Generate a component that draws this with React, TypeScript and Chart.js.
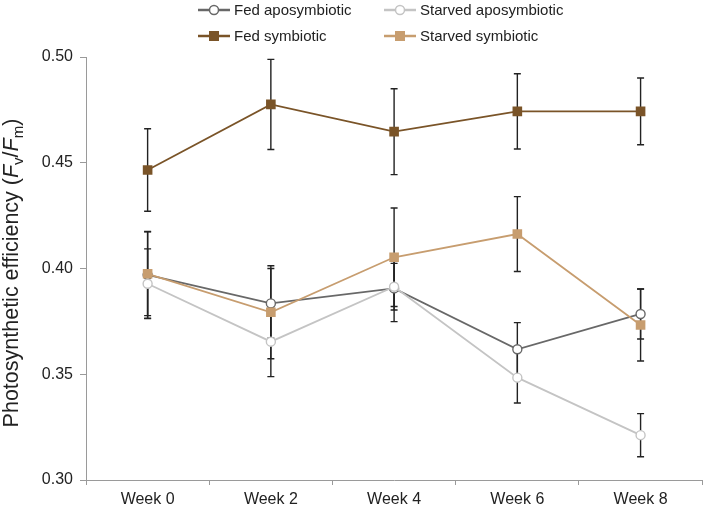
import React, { useEffect, useRef } from 'react';
import { Chart, registerables } from 'chart.js';

Chart.register(...registerables);

const weeks = ['Week 0', 'Week 2', 'Week 4', 'Week 6', 'Week 8'];

const fedApo = [0.397, 0.3835, 0.3906, 0.3618, 0.3785];
const fedApoErr = [0.0205, 0.0165, 0.0157, 0.0126, 0.0118];

const starvedApo = [0.3928, 0.3654, 0.3914, 0.3484, 0.3212];
const starvedApoErr = [0.0165, 0.0165, 0.011, 0.012, 0.0102];

const fedSym = [0.4466, 0.4776, 0.4647, 0.4743, 0.4743];
const fedSymErr = [0.0195, 0.0213, 0.0203, 0.0178, 0.0158];

const starvedSym = [0.3975, 0.3793, 0.4053, 0.4163, 0.3733];
const starvedSymErr = [0.0198, 0.022, 0.0233, 0.0177, 0.017];

const yMin = 0.3;
const yMax = 0.5;
const yStep = 0.05;

const FONT = '"Liberation Sans", Arial, Helvetica, sans-serif';

type Series = {
  label: string;
  data: number[];
  err: number[];
  color: string;
  fill: string;
  style: 'circle' | 'rect';
  order: number;
};

export default function App() {
  const ref = useRef<HTMLCanvasElement>(null);

  useEffect(() => {
    if (!ref.current) return;
    const series: Series[] = [
      { label: 'Fed aposymbiotic', data: fedApo, err: fedApoErr, color: '#686868', fill: '#ffffff', style: 'circle', order: 3 },
      { label: 'Starved aposymbiotic', data: starvedApo, err: starvedApoErr, color: '#c4c4c4', fill: '#ffffff', style: 'circle', order: 2 },
      { label: 'Fed symbiotic', data: fedSym, err: fedSymErr, color: '#7a5428', fill: '#7a5428', style: 'rect', order: 1 },
      { label: 'Starved symbiotic', data: starvedSym, err: starvedSymErr, color: '#c79d6f', fill: '#c79d6f', style: 'rect', order: 0 },
    ];

    const errorBars = {
      id: 'errorBars',
      beforeDatasetsDraw(chart: any) {
        const ctx = chart.ctx;
        const y = chart.scales.y;
        ctx.save();
        ctx.strokeStyle = '#222222';
        ctx.lineWidth = 1.4;
        series.forEach((s, di) => {
          const meta = chart.getDatasetMeta(di);
          s.err.forEach((e, i) => {
            const pt = meta.data[i];
            if (!pt) return;
            const x = pt.x;
            const v = s.data[i];
            const yt = y.getPixelForValue(v + e);
            const yb = y.getPixelForValue(v - e);
            ctx.beginPath();
            ctx.moveTo(x, yt);
            ctx.lineTo(x, yb);
            ctx.moveTo(x - 3.5, yt);
            ctx.lineTo(x + 3.5, yt);
            ctx.moveTo(x - 3.5, yb);
            ctx.lineTo(x + 3.5, yb);
            ctx.stroke();
          });
        });
        ctx.restore();
      },
    };

    const legendPos = [
      { x: 234, y: 10 },
      { x: 420, y: 10 },
      { x: 234, y: 36 },
      { x: 420, y: 36 },
    ];

    const customLegend = {
      id: 'customLegend',
      afterDraw(chart: any) {
        const ctx = chart.ctx;
        ctx.save();
        series.forEach((s, i) => {
          const p = legendPos[i];
          const cx = p.x - 20;
          ctx.strokeStyle = s.color;
          ctx.lineWidth = 2.5;
          ctx.beginPath();
          ctx.moveTo(cx - 16, p.y);
          ctx.lineTo(cx + 16, p.y);
          ctx.stroke();
          ctx.lineWidth = 1.5;
          ctx.fillStyle = s.fill;
          if (s.style === 'circle') {
            ctx.beginPath();
            ctx.arc(cx, p.y, 4.5, 0, Math.PI * 2);
            ctx.fill();
            ctx.stroke();
          } else {
            ctx.fillRect(cx - 5, p.y - 5, 10, 10);
          }
          ctx.fillStyle = '#222222';
          ctx.font = '15px ' + FONT;
          ctx.textBaseline = 'middle';
          ctx.textAlign = 'left';
          ctx.fillText(s.label, p.x, p.y + 1);
        });
        ctx.restore();
      },
    };

    const yTitle = {
      id: 'yTitle',
      afterDraw(chart: any) {
        const ctx = chart.ctx;
        const parts: { t: string; f: string; dy: number }[] = [
          { t: 'Photosynthetic efficiency (', f: '21.5px ' + FONT, dy: 0 },
          { t: 'F', f: 'italic 21.5px ' + FONT, dy: 0 },
          { t: 'v', f: '15px ' + FONT, dy: 5 },
          { t: '/', f: '21.5px ' + FONT, dy: 0 },
          { t: 'F', f: 'italic 21.5px ' + FONT, dy: 0 },
          { t: 'm', f: '15px ' + FONT, dy: 5 },
          { t: ')', f: '21.5px ' + FONT, dy: 0 },
        ];
        ctx.save();
        let total = 0;
        const widths = parts.map((p) => {
          ctx.font = p.f;
          const w = ctx.measureText(p.t).width;
          total += w;
          return w;
        });
        ctx.translate(18, 273);
        ctx.rotate(-Math.PI / 2);
        ctx.fillStyle = '#222222';
        ctx.textBaseline = 'alphabetic';
        ctx.textAlign = 'left';
        let x = -total / 2;
        parts.forEach((p, i) => {
          ctx.font = p.f;
          ctx.fillText(p.t, x, p.dy);
          x += widths[i];
        });
        ctx.restore();
      },
    };

    const chart = new Chart(ref.current, {
      type: 'line',
      data: {
        labels: weeks,
        datasets: series.map((s) => ({
          label: s.label,
          data: s.data,
          borderColor: s.color,
          backgroundColor: s.fill,
          borderWidth: 1.8,
          pointStyle: s.style,
          pointRadius: s.style === 'circle' ? 4.5 : 6.8,
          pointBorderWidth: s.style === 'circle' ? 1.4 : 0,
          pointBackgroundColor: s.fill,
          pointBorderColor: s.color,
          tension: 0,
          order: s.order,
        })),
      },
      options: {
        animation: false,
        responsive: true,
        maintainAspectRatio: false,
        layout: { padding: { left: 0, right: 3, top: 57, bottom: 0 } },
        plugins: {
          legend: { display: false },
          tooltip: { enabled: false },
        },
        scales: {
          x: {
            offset: true,
            grid: {
              offset: true,
              drawOnChartArea: false,
              drawTicks: true,
              tickLength: 5,
              color: '#9a9a9a',
            },
            border: { display: true, color: '#9a9a9a', width: 1 },
            ticks: {
              color: '#222222',
              font: { family: FONT, size: 16 },
              padding: 5,
              maxRotation: 0,
            },
            afterFit(scale: any) {
              scale.height = 32;
            },
          },
          y: {
            min: yMin,
            max: yMax,
            grid: {
              drawOnChartArea: false,
              drawTicks: true,
              tickLength: 6,
              color: '#9a9a9a',
            },
            border: { display: true, color: '#9a9a9a', width: 1 },
            ticks: {
              stepSize: yStep,
              color: '#222222',
              font: { family: FONT, size: 16 },
              padding: 7,
              callback: (v: any) => Number(v).toFixed(2),
            },
            afterFit(scale: any) {
              scale.width = 86;
            },
          },
        },
      },
      plugins: [errorBars, customLegend, yTitle],
    });
    return () => chart.destroy();
  }, []);

  return (
    <div style={{ position: 'fixed', left: 0, top: 0, width: 709, height: 512, background: '#ffffff' }}>
      <canvas ref={ref} />
    </div>
  );
}
